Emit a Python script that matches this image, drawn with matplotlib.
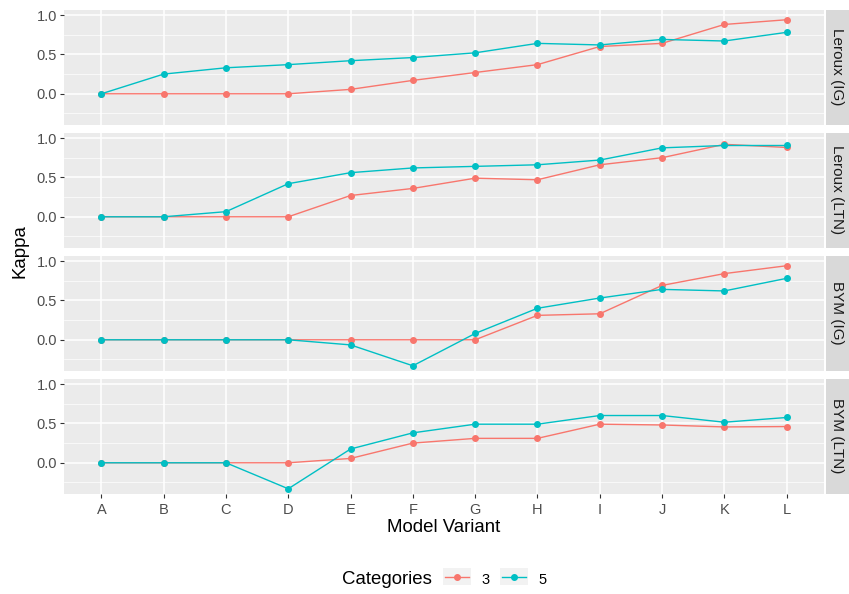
import numpy as np
import matplotlib.pyplot as plt
from matplotlib.patches import Rectangle

plt.rcParams['font.family'] = ['Liberation Sans', 'DejaVu Sans']

variants = ['A', 'B', 'C', 'D', 'E', 'F', 'G', 'H', 'I', 'J', 'K', 'L']
panels = ['Leroux (IG)', 'Leroux (LTN)', 'BYM (IG)', 'BYM (LTN)']

# kappa values, categories = 3
kappa3 = {
    'Leroux (IG)':  [0, 0, 0, 0, 0.056, 0.17, 0.27, 0.37, 0.60, 0.64, 0.88, 0.94],
    'Leroux (LTN)': [0, 0, 0, 0, 0.27, 0.36, 0.49, 0.47, 0.66, 0.75, 0.92, 0.88],
    'BYM (IG)':     [0, 0, 0, 0, 0, 0, 0, 0.31, 0.33, 0.69, 0.84, 0.94],
    'BYM (LTN)':    [0, 0, 0, 0, 0.055, 0.25, 0.31, 0.31, 0.49, 0.48, 0.455, 0.46],
}
# kappa values, categories = 5
kappa5 = {
    'Leroux (IG)':  [0, 0.25, 0.33, 0.37, 0.42, 0.46, 0.52, 0.64, 0.62, 0.69, 0.67, 0.78],
    'Leroux (LTN)': [0, 0, 0.065, 0.42, 0.56, 0.62, 0.64, 0.66, 0.72, 0.875, 0.905, 0.905],
    'BYM (IG)':     [0, 0, 0, 0, -0.065, -0.33, 0.08, 0.40, 0.53, 0.64, 0.62, 0.78],
    'BYM (LTN)':    [0, 0, 0, -0.33, 0.175, 0.38, 0.49, 0.49, 0.60, 0.60, 0.515, 0.575],
}
categories = ['3', '5']
colors = {'3': '#F8766D', '5': '#00BFC4'}

W, H = 849, 594
fig = plt.figure(figsize=(W / 100, H / 100), dpi=100)

def fx(px):
    return px / W

def fy(px):
    return 1 - px / H

left, right = 64, 824
tops = [9.5, 132.5, 255.5, 378.5]
ph = 115
x = np.arange(len(variants))

for i, (name, top) in enumerate(zip(panels, tops)):
    ax = fig.add_axes([fx(left), fy(top + ph), fx(right - left), ph / H])
    ax.set_facecolor('#EBEBEB')
    for s in ax.spines.values():
        s.set_visible(False)
    ax.set_xlim(-0.6, len(variants) - 0.4)
    ax.set_ylim(-0.39, 1.07)
    ax.set_yticks([0, 0.5, 1.0])
    ax.set_yticklabels(['0.0', '0.5', '1.0'])
    ax.set_yticks([-0.25, 0.25, 0.75], minor=True)
    ax.set_xticks(x)
    ax.grid(True, which='major', color='white', linewidth=1.1)
    ax.grid(True, which='minor', axis='y', color='white', linewidth=0.5)
    ax.set_axisbelow(True)
    ax.tick_params(axis='both', which='major', color='#333333', length=3,
                   labelsize=10.5, labelcolor='#4D4D4D', pad=2)
    ax.tick_params(axis='x', pad=4)
    ax.tick_params(axis='y', which='minor', length=0)
    if i == len(panels) - 1:
        ax.set_xticklabels(variants)
    else:
        ax.tick_params(axis='x', bottom=False, labelbottom=False)
    ax.plot(x, kappa3[name], color=colors['3'], lw=1.0, marker='o', ms=4)
    ax.plot(x, kappa5[name], color=colors['5'], lw=1.0, marker='o', ms=4)

    # facet strip
    sax = fig.add_axes([fx(826), fy(top + ph), fx(849 - 826), ph / H])
    sax.set_facecolor('#D9D9D9')
    sax.set_xticks([])
    sax.set_yticks([])
    for s in sax.spines.values():
        s.set_visible(False)
    sax.text(0.5, 0.5, name, rotation=-90, ha='center', va='center',
             fontsize=11, color='#1A1A1A', transform=sax.transAxes)

fig.text(fx((left + right) / 2), fy(528), 'Model Variant', ha='center',
         va='center', fontsize=13.4)
fig.text(fx(20), fy((tops[0] + tops[-1] + ph) / 2), 'Kappa', rotation=90,
         ha='center', va='center', fontsize=13.4)

# legend
lax = fig.add_axes([0, 0, 1, 1], facecolor='none')
lax.set_xlim(0, W)
lax.set_ylim(H, 0)
lax.axis('off')
lax.text(432, 580, 'Categories', ha='right', va='center', fontsize=13.4)
for k0, lab in zip([443, 500], categories):
    lax.add_patch(Rectangle((k0, 568), 28, 17, facecolor='#F2F2F2', edgecolor='none'))
    lax.plot([k0 + 2, k0 + 26], [576.5, 576.5], color=colors[lab], lw=1.0)
    lax.plot([k0 + 14], [576.5], 'o', color=colors[lab], ms=4)
    lax.text(k0 + 38, 580, lab, ha='left', va='center', fontsize=10.5)

fig.savefig('out.png', dpi=100)
